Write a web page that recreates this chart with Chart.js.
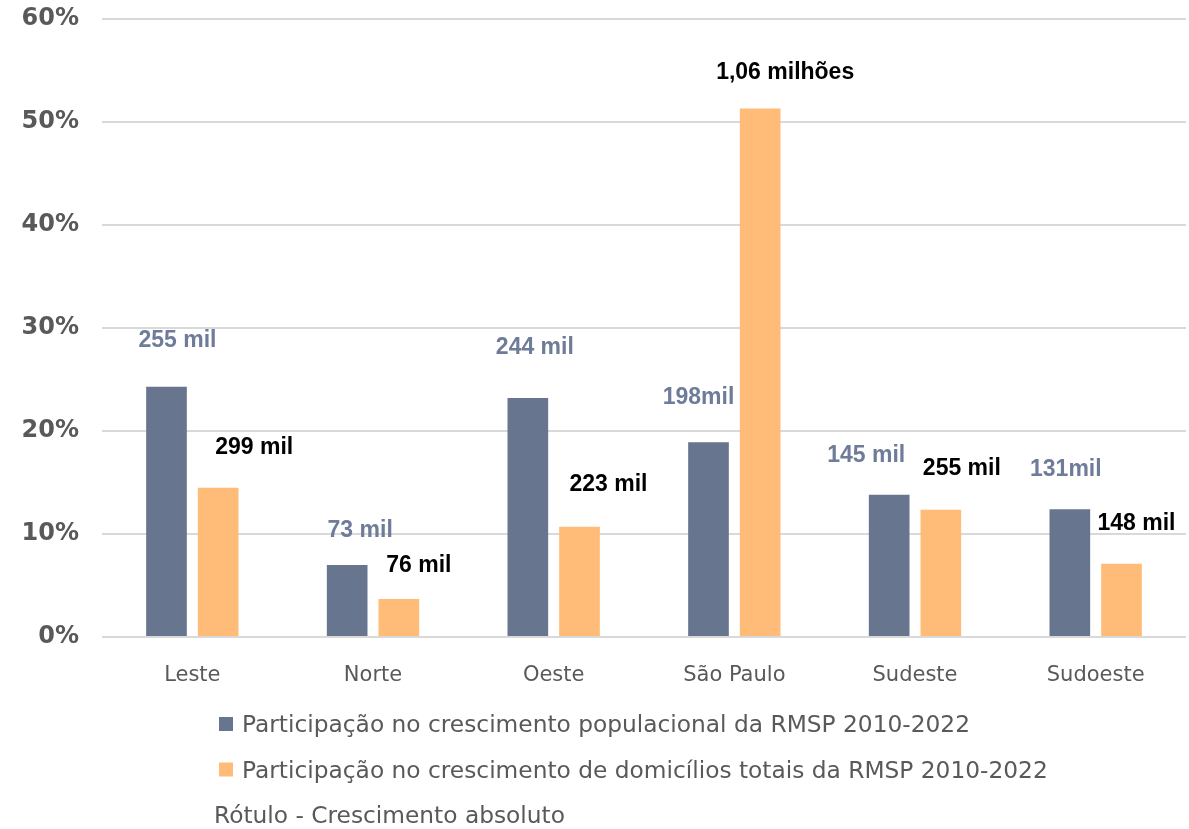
<!DOCTYPE html>
<html>
<head>
<meta charset="utf-8">
<script src="https://cdn.jsdelivr.net/npm/chart.js@4"></script>
<style>
  body { margin: 0; background: #fff; }
  #wrap { width: 1189px; height: 829px; }
</style>
</head>
<body>
<div id="wrap"><canvas id="grafico"></canvas></div>
<script>
const regioes = ["Leste", "Norte", "Oeste", "São Paulo", "Sudeste", "Sudoeste"];
const partPopulacao = [24.3, 7.0, 23.2, 18.9, 13.8, 12.4];
const partDomicilios = [14.5, 3.7, 10.7, 51.3, 12.35, 7.1];
const rotulosPopulacao = ["255 mil", "73 mil", "244 mil", "198mil", "145 mil", "131mil"];
const rotulosDomicilios = ["299 mil", "76 mil", "223 mil", "1,06 milhões", "255 mil", "148 mil"];
const ticksY = [0, 10, 20, 30, 40, 50, 60];
const legendas = [
  "Participação no crescimento populacional da RMSP 2010-2022",
  "Participação no crescimento de domicílios totais da RMSP 2010-2022",
  "Rótulo - Crescimento absoluto"
];

// deslocamento de cada rótulo a partir do topo da barra (px)
const desvioPop = [[11, -46], [13, -34], [7, -50], [-10, -45], [-23, -39], [-4, -40]];
const desvioDom = [[36, -40], [20, -33], [29, -42], [25, -36], [21, -41], [15, -40]];

const corAzul = "#68758f";
const corLaranja = "#ffbb78";

const rotulosBarras = {
  id: "rotulosBarras",
  afterDatasetsDraw(chart) {
    const ctx = chart.ctx;
    const conf = [
      { textos: rotulosPopulacao, desvio: desvioPop, cor: "#6e7b99" },
      { textos: rotulosDomicilios, desvio: desvioDom, cor: "#000000" }
    ];
    ctx.save();
    ctx.font = "bold 23px 'Liberation Sans', Arial, sans-serif";
    ctx.textAlign = "center";
    ctx.textBaseline = "middle";
    conf.forEach((c, i) => {
      chart.getDatasetMeta(i).data.forEach((bar, j) => {
        ctx.fillStyle = c.cor;
        ctx.fillText(c.textos[j], bar.x + c.desvio[j][0], bar.y + c.desvio[j][1]);
      });
    });
    ctx.restore();
  }
};

// legenda desenhada à mão embaixo do gráfico
const legendaBaixo = {
  id: "legendaBaixo",
  afterDraw(chart) {
    const ctx = chart.ctx;
    ctx.save();
    ctx.font = "23.3px 'DejaVu Sans', Verdana, sans-serif";
    ctx.fillStyle = "#595959";
    ctx.textBaseline = "alphabetic";
    const cores = [corAzul, corLaranja];
    const linhas = [732, 777.5, 823];
    legendas.forEach((txt, i) => {
      if (i < 2) {
        ctx.fillStyle = cores[i];
        ctx.fillRect(219, linhas[i] - 15, 14, 14);
        ctx.fillStyle = "#595959";
        ctx.fillText(txt, 242, linhas[i]);
      } else {
        ctx.fillText(txt, 214, linhas[i]);
      }
    });
    ctx.restore();
  }
};

new Chart(document.getElementById("grafico"), {
  type: "bar",
  data: {
    labels: regioes,
    datasets: [
      {
        label: legendas[0],
        data: partPopulacao,
        backgroundColor: corAzul,
        categoryPercentage: 0.572,
        barPercentage: 0.787
      },
      {
        label: legendas[1],
        data: partDomicilios,
        backgroundColor: corLaranja,
        categoryPercentage: 0.572,
        barPercentage: 0.787
      }
    ]
  },
  options: {
    responsive: true,
    maintainAspectRatio: false,
    animation: false,
    layout: { padding: { top: 19, right: 3, left: 0, bottom: 0 } },
    plugins: {
      legend: { display: false },
      tooltip: { enabled: false }
    },
    scales: {
      x: {
        grid: { display: false },
        border: { display: false },
        ticks: {
          color: "#595959",
          font: { family: "'DejaVu Sans'", size: 21 },
          padding: 18
        },
        afterFit(scale) { scale.height = 192; }
      },
      y: {
        min: 0,
        max: 60,
        grid: { color: "#d9d9d9", lineWidth: 2, drawTicks: false },
        border: { display: false },
        ticks: {
          color: "#595959",
          font: { family: "'DejaVu Sans'", size: 24, weight: "bold" },
          padding: 23,
          callback: v => v + "%"
        },
        afterBuildTicks(scale) { scale.ticks = ticksY.map(v => ({ value: v })); },
        afterFit(scale) {
          scale.width = 102;
          scale.paddingTop = 0;
          scale.paddingBottom = 0;
        }
      }
    }
  },
  plugins: [rotulosBarras, legendaBaixo]
});
</script>
</body>
</html>
